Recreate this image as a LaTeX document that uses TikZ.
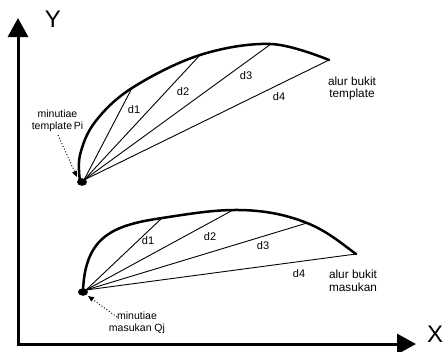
\documentclass[tikz,border=0pt]{standalone}
\usepackage{fontspec}
\setmainfont{Liberation Sans}
\usetikzlibrary{arrows.meta}
\begin{document}
\begin{tikzpicture}[x=1pt,y=-1pt,
  axisline/.style={line width=3pt,line join=miter,
    {Triangle[length=19pt,width=20pt]}-{Triangle[length=19pt,width=20pt]}},
  axislbl/.style={font=\fontsize{24}{24}\selectfont,inner sep=0pt},
  ridge/.style={line width=2.5pt,line cap=round},
  chord/.style={line width=0.9pt},
  pointer/.style={line width=0.9pt,dash pattern=on 1pt off 2pt,
    -{Triangle[length=6pt,width=5pt]}},
  lbl/.style={font=\fontsize{10.5}{12.5}\selectfont,align=center,inner sep=0pt},
  ridgelbl/.style={font=\fontsize{11.8}{12.5}\selectfont,align=center,inner sep=0pt},
  dlbl/.style={font=\fontsize{11}{12}\selectfont,inner sep=0pt}]
\useasboundingbox (0,0) rectangle (446,351);

% axes
\coordinate (org) at (18,344);
\coordinate (ytip) at (18,18);
\coordinate (xtip) at (416,344);
\draw[axisline] (ytip) -- (org) -- (xtip);
\node[axislbl] (ylab) at (53,19) {Y};
\node[axislbl] (xlab) at (435,334) {X};

% template ridge
\coordinate (p) at (84,180);
\coordinate (a1) at (132,88);
\coordinate (a2) at (200,55);
\coordinate (a3) at (271,44);
\coordinate (a4) at (329,60);
\draw[ridge] plot[smooth,tension=0.6] coordinates {(80,181) (80,155) (95,122) (a1) (a2) (a3) (a4)};
\foreach \e in {a1,a2,a3,a4} \draw[chord] (p) -- (\e);
\fill (82,182) ellipse [x radius=5pt,y radius=3.8pt];
\node[dlbl] (d1a) at (134,110) {d1};
\node[dlbl] (d2a) at (183,92) {d2};
\node[dlbl] (d3a) at (246,76) {d3};
\node[dlbl] (d4a) at (279,97) {d4};
\node[ridgelbl] (ridgeA) at (352,88.5) {alur bukit\\template};
\node[lbl] (minA) at (57.5,121) {minutiae\\template\,Pi};
\coordinate (pa0) at (58,135);
\coordinate (pa1) at (77,177);
\draw[pointer] (pa0) -- (pa1);

% input ridge
\coordinate (q) at (86,290);
\coordinate (b1) at (162,218);
\coordinate (b2) at (233,210);
\coordinate (b3) at (307,223);
\coordinate (b4) at (356,254);
\draw[ridge] (83,291) .. controls (85,235) and (115,225) .. (b1)
  .. controls (186,214.4) and (210,210.3) .. (b2)
  .. controls (258,209.7) and (282,213) .. (b3)
  .. controls (327,231) and (341,243) .. (b4);
\foreach \e in {b1,b2,b3,b4} \draw[chord] (q) -- (\e);
\fill (83,292) ellipse [x radius=5pt,y radius=3.8pt];
\node[dlbl] (d1b) at (148,241) {d1};
\node[dlbl] (d2b) at (210,237) {d2};
\node[dlbl] (d3b) at (263,246) {d3};
\node[dlbl] (d4b) at (299,274) {d4};
\node[ridgelbl] (ridgeB) at (353,281) {alur bukit\\masukan};
\node[lbl] (minB) at (137,323) {minutiae\\masukan Qj};
\coordinate (pb0) at (117,317);
\coordinate (pb1) at (88,296);
\draw[pointer] (pb0) -- (pb1);
\end{tikzpicture}
\end{document}
